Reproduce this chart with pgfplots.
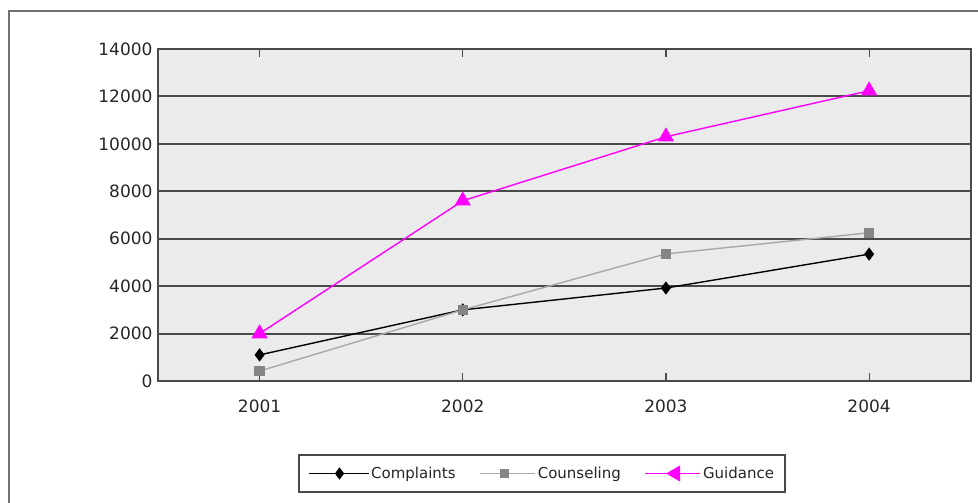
\documentclass[border=0pt]{standalone}
\usepackage{pgfplots}
\pgfplotsset{compat=1.18}
\usepackage{fontspec}
\setmainfont{DejaVu Sans}
\definecolor{plotbg}{HTML}{EBEBEB}
\definecolor{gridc}{HTML}{4A4A4A}
\definecolor{cnsline}{HTML}{A8A8A8}
\definecolor{cnsmark}{HTML}{858585}
\definecolor{frame}{HTML}{707070}
\definecolor{mag}{HTML}{FF00FF}
\begin{document}
\begin{tikzpicture}[x=1pt,y=1pt]
\useasboundingbox (0,0) rectangle (978,503);
\fill[white] (0,0) rectangle (978,503);
\draw[frame, line width=1.5pt] (9,-5) -- (9,492) -- (990,492);
\begin{axis}[
  at={(158pt,122pt)}, anchor=south west,
  width=812.7pt, height=332pt, scale only axis,
  xmin=-0.5, xmax=3.5, ymin=0, ymax=14000,
  xtick={0,1,2,3}, xticklabels={2001,2002,2003,2004},
  ytick={0,2000,...,14000},
  scaled y ticks=false,
  ymajorgrids, major grid style={gridc, line width=2pt},
  axis background/.style={fill=plotbg},
  axis line style={gridc, line width=2pt},
  tick align=inside, major tick length=8pt,
  xtick style={gridc, line width=1.2pt},
  ytick style={draw=none},
  /pgf/number format/assume math mode=true,
  /pgf/number format/1000 sep={},
  tick label style={font=\fontsize{17}{20}\selectfont, text=black!85},
  xticklabel style={yshift=-15pt},
  yticklabel style={xshift=-2pt},
  legend style={at={(0.4725,-0.2786)}, anchor=center, legend columns=3,
    draw=gridc, line width=1.2pt, font=\fontsize{15}{18}\selectfont,
    text=black!85, inner xsep=9pt, inner ysep=10pt,
    /tikz/every even column/.append style={column sep=22pt}},
  legend cell align=left,
]
\addplot[black, line width=1.4pt, mark=diamond*, mark size=5.5pt,
  mark options={solid, fill=black},
  legend image code/.code={\draw[black,line width=1.2pt] (0pt,0pt) -- (60pt,0pt);
    \draw[black, mark=diamond*, mark size=5pt] plot coordinates {(31pt,0pt)};}]
  coordinates {(0,1100) (1,3000) (2,3920) (3,5350)};
\addlegendentry{Complaints}
\addplot[cnsline, line width=1.4pt, mark=square*, mark size=4.5pt,
  mark options={solid, draw=cnsmark, fill=cnsmark},
  legend image code/.code={\draw[cnsline,line width=1.2pt] (0pt,0pt) -- (55pt,0pt);
    \draw[cnsmark, mark=square*, mark size=4pt] plot coordinates {(24pt,0pt)};}]
  coordinates {(0,420) (1,3000) (2,5360) (3,6250)};
\addlegendentry{Counseling}
\addplot[mag, line width=1.4pt, mark=triangle*, mark size=8pt,
  mark options={solid, fill=mag},
  legend image code/.code={\draw[mag,line width=1.2pt] (0pt,0pt) -- (55pt,0pt);
    \draw[mag, mark=triangle*, mark size=8pt, mark options={rotate=90}] plot coordinates {(30pt,0pt)};}]
  coordinates {(0,2000) (1,7600) (2,10300) (3,12240)};
\addlegendentry{Guidance}
\end{axis}
\end{tikzpicture}
\end{document}
